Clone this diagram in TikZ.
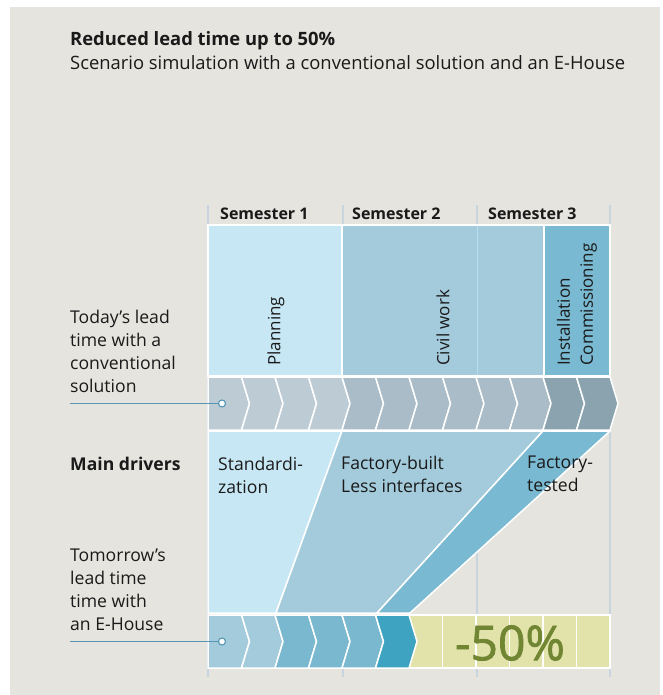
\documentclass[tikz,border=0pt]{standalone}
\usepackage{fontspec}
\setmainfont{Open Sans}
\newfontfamily\heavyfont[FakeBold=1.6]{Open Sans}
\usepackage{tikz}
\usetikzlibrary{positioning,calc}

\definecolor{paper}{HTML}{E5E4DE}
\definecolor{ink}{HTML}{1A1A1A}
\definecolor{planfill}{HTML}{C8E7F4}
\definecolor{civilfill}{HTML}{A3CBDC}
\definecolor{instfill}{HTML}{79B9D1}
\definecolor{chevplan}{HTML}{BDCBD5}
\definecolor{chevcivil}{HTML}{AABCC7}
\definecolor{chevinst}{HTML}{8AA3AE}
\definecolor{newlight}{HTML}{A3CBDC}
\definecolor{newmid}{HTML}{7AB8D0}
\definecolor{newdark}{HTML}{3EA3C1}
\definecolor{gain}{HTML}{E2E2AB}
\definecolor{olive}{HTML}{718633}
\definecolor{gridblue}{HTML}{C9D5DE}
\definecolor{linkblue}{HTML}{5597B3}

\begin{document}
\begin{tikzpicture}[
    x=1pt, y=-1pt,
    txt/.style={font=\fontsize{17.6}{23}\selectfont, text=ink, anchor=base west, inner sep=0pt, align=left},
    head/.style={txt, font=\fontsize{17.6}{23}\selectfont\bfseries},
    sem/.style={txt, font=\fontsize{16}{20}\selectfont\bfseries},
    phase/.style={txt, font=\fontsize{17}{23}\selectfont, rotate=90, anchor=west},
    block/.style={draw=white, line width=1.5pt},
    vline/.style={draw=gridblue, line width=1.6pt},
    dot/.style={circle, draw=linkblue, fill=white, line width=1.1pt, inner sep=0pt, minimum size=7pt},
    link/.style={draw=linkblue, line width=1.8pt}
]

% Background
\fill[white] (0,0) rectangle (662,695);
\fill[paper] (10,7) rectangle (660,695);
\useasboundingbox (0,0) rectangle (662,695);

% Title
\node[head, font=\fontsize{18.4}{23}\selectfont\bfseries] (title) at (70,46) {Reduced lead time up to 50\%};
\node[txt, font=\fontsize{18.4}{23}\selectfont] (subtitle) at (70,70) {Scenario simulation with a conventional solution and an E-House};

% Semester grid
\foreach \gx in {208,343,477,610}
    \draw[vline] (\gx,205) -- (\gx,677);
\node[sem] (sem1) at (220,219) {Semester 1};
\node[sem] (sem2) at (352,219) {Semester 2};
\node[sem] (sem3) at (488,219) {Semester 3};

% Today: phases
\fill[planfill, block] (208,225) rectangle (342,376);
\fill[civilfill, block] (342,225) rectangle (544,376);
\draw[draw=planfill!60!civilfill, line width=1pt] (477,226) -- (477,375);
\fill[instfill, block] (544,225) rectangle (610,376);
\node[phase] (planning) at (276,366) {Planning};
\node[phase] (civil) at (443,366) {Civil work};
\node[phase] (install) at (577,366) {Installation\\Commissioning};

% Today: chevron bar
\foreach \i/\c in {0/chevplan,1/chevplan,2/chevplan,3/chevplan,4/chevcivil,5/chevcivil,6/chevcivil,7/chevcivil,8/chevcivil,9/chevcivil,10/chevinst,11/chevinst} {
    \pgfmathsetmacro\xa{208+33.5*\i}
    \pgfmathsetmacro\nd{\i==0 ? 0 : 8}
    \fill[\c, block] (\xa,377) -- ++(33.5,0) -- ++(8,26.5) -- ++(-8,26.5) -- ++(-33.5,0) -- ++(\nd,-26.5) -- cycle;
}

% Main drivers
\fill[planfill, block] (208,431) -- (342,431) -- (276,613) -- (208,613) -- cycle;
\fill[civilfill, block] (342,431) -- (543,431) -- (377,613) -- (276,613) -- cycle;
\fill[instfill, block] (543,431) -- (610,431) -- (410,613) -- (377,613) -- cycle;
\node[head] (drivers) at (70,470) {Main drivers};
\node[txt] (standard) at (218,493) {Standardi-\\zation};
\node[txt] (factory) at (341,492) {Factory-built\\Less interfaces};
\node[txt] (tested) at (527,491) {Factory-\\tested};

% Tomorrow: gain cells
\foreach \i in {0,...,5}
    \fill[gain, block] (409+33.5*\i,615) rectangle ++(33.5,53);

% Tomorrow: chevron bar
\foreach \i/\c in {0/newlight,1/newlight,2/newmid,3/newmid,4/newmid,5/newdark} {
    \pgfmathsetmacro\xa{208+33.5*\i}
    \pgfmathsetmacro\nd{\i==0 ? 0 : 8}
    \fill[\c, block] (\xa,615) -- ++(33.5,0) -- ++(8,26.5) -- ++(-8,26.5) -- ++(-33.5,0) -- ++(\nd,-26.5) -- cycle;
}
\node[font=\heavyfont\fontsize{48}{48}\selectfont, text=olive, inner sep=0pt] (saving) at (510,643) {-50\%};

% Left labels
\node[txt] (today) at (70,392) {Today’s lead\\time with a\\conventional\\solution};
\node[dot] (todaydot) at (222,403.5) {};
\coordinate (todaystart) at (70,403.5);
\draw[link] (todaystart) -- (todaydot);

\node[txt] (tomorrow) at (70,630) {Tomorrow’s\\lead time\\time with\\an E-House};
\node[dot] (tomorrowdot) at (222,641.5) {};
\coordinate (tomorrowstart) at (70,641.5);
\draw[link] (tomorrowstart) -- (tomorrowdot);

\end{tikzpicture}
\end{document}
